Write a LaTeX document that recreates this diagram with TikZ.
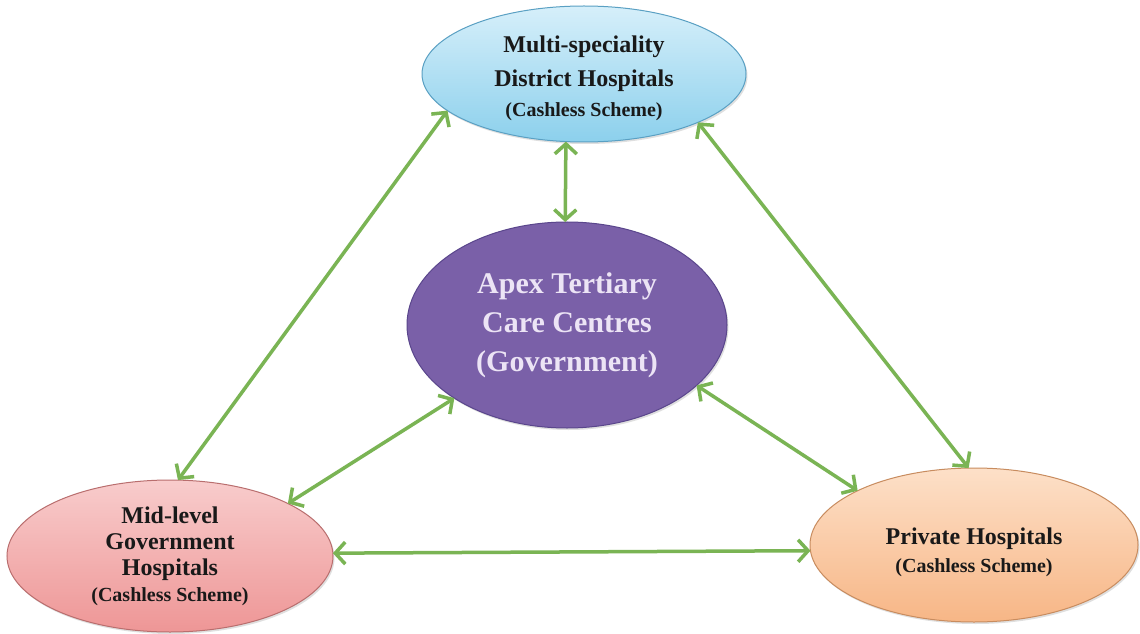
\documentclass[tikz,border=0pt]{standalone}
\usepackage{fontspec}
\setmainfont{Liberation Serif}
\usetikzlibrary{arrows.meta,shadows,shapes.geometric}
\definecolor{arrowgreen}{RGB}{122,180,84}
\definecolor{bluetop}{RGB}{214,239,250}
\definecolor{bluebot}{RGB}{140,208,236}
\definecolor{blueline}{RGB}{90,160,195}
\definecolor{purp}{RGB}{122,96,168}
\definecolor{purpline}{RGB}{90,70,140}
\definecolor{pinktop}{RGB}{248,204,204}
\definecolor{pinkbot}{RGB}{238,150,150}
\definecolor{pinkline}{RGB}{185,110,110}
\definecolor{peachtop}{RGB}{253,224,200}
\definecolor{peachbot}{RGB}{247,182,134}
\definecolor{peachline}{RGB}{200,140,95}
\definecolor{lavtext}{RGB}{236,228,245}
\tikzset{
  x=1pt,y=1pt,
  oval/.style={ellipse, inner sep=0pt, outer sep=0pt, line width=1pt,
    drop shadow={shadow xshift=1.5pt,shadow yshift=-2pt,opacity=0.25}},
  lbl/.style={align=center, font=\bfseries\fontsize{24}{32}\selectfont, text=black!90},
  link/.style={arrowgreen, line width=3.5pt,
    {Straight Barb[length=10pt,width=22pt,line width=3.5pt]}-{Straight Barb[length=10pt,width=22pt,line width=3.5pt]}},
}
\newcommand{\cashless}{{\fontsize{20}{26}\selectfont(Cashless Scheme)}}
\begin{document}
\begin{tikzpicture}
\useasboundingbox (0,0) rectangle (1140,633);
\fill[white] (0,0) rectangle (1140,633);
\node[oval, minimum width=324, minimum height=136, draw=blueline, top color=bluetop, bottom color=bluebot,
  label={[lbl, font=\bfseries\fontsize{24}{34}\selectfont, yshift=-4pt]center:Multi-speciality\\District Hospitals\\[-4pt]\cashless}]
  (top) at (584,559) {};
\node[oval, minimum width=320, minimum height=206, draw=purpline, fill=purp,
  label={[align=center, font=\bfseries\fontsize{30}{39}\selectfont, text=lavtext]center:Apex Tertiary\\Care Centres\\(Government)}]
  (ctr) at (567,308) {};
\node[oval, minimum width=326, minimum height=152, draw=pinkline, top color=pinktop, bottom color=pinkbot,
  label={[lbl, font=\bfseries\fontsize{24}{26}\selectfont]center:Mid-level\\Government\\Hospitals\\\cashless}]
  (bl) at (170,77) {};
\node[oval, minimum width=328, minimum height=154, draw=peachline, top color=peachtop, bottom color=peachbot,
  label={[lbl, font=\bfseries\fontsize{24}{28}\selectfont, yshift=-7pt]center:Private Hospitals\\\cashless}]
  (br) at (974,88) {};
\draw[link] (top.195) -- (bl.84);
\draw[link] (top.-23) -- (br.94);
\draw[link] (top.-105) -- (ctr.91);
\draw[link] (ctr.213) -- (bl.24);
\draw[link] (ctr.-25) -- (br.155);
\draw[link] (bl.1) -- (br.182);
\end{tikzpicture}
\end{document}
